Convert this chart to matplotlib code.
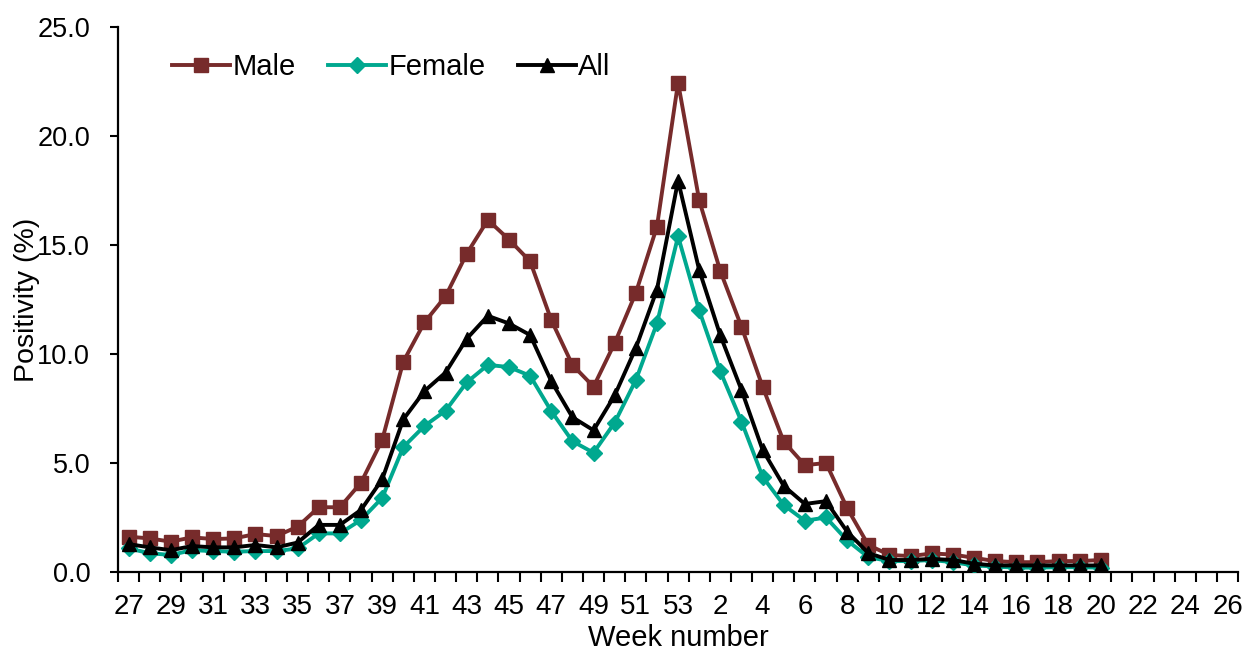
import matplotlib
matplotlib.use("Agg")
import matplotlib.pyplot as plt
from matplotlib.ticker import FixedLocator, FuncFormatter

plt.rcParams['font.family'] = ['Liberation Sans', 'DejaVu Sans']

weeks = list(range(27, 54)) + list(range(1, 27))
tick_labels = [str(w) for w in weeks]

male = [1.62, 1.54, 1.39, 1.59, 1.51, 1.54, 1.74, 1.65, 2.08, 2.97, 2.97, 4.1, 6.06, 9.65,
        11.45, 12.65, 14.6, 16.15, 15.25, 14.25, 11.56, 9.5, 8.5, 10.5, 12.8, 15.84, 22.45,
        17.05, 13.8, 11.25, 8.5, 5.98, 4.9, 5.0, 2.93, 1.24, 0.78, 0.73, 0.85, 0.8,
        0.65, 0.5, 0.45, 0.45, 0.5, 0.5, 0.55]
female = [1.08, 0.86, 0.78, 1.0, 0.96, 0.93, 0.96, 0.96, 1.08, 1.77, 1.77, 2.39, 3.4, 5.73,
          6.7, 7.4, 8.7, 9.5, 9.4, 9.0, 7.38, 6.0, 5.47, 6.85, 8.8, 11.4, 15.4,
          12.0, 9.2, 6.9, 4.37, 3.07, 2.35, 2.5, 1.45, 0.68, 0.5, 0.5, 0.55, 0.45,
          0.3, 0.25, 0.2, 0.2, 0.22, 0.22, 0.2]
all_ = [1.28, 1.13, 1.0, 1.19, 1.13, 1.13, 1.24, 1.13, 1.35, 2.16, 2.16, 2.85, 4.25, 7.0,
        8.3, 9.15, 10.7, 11.75, 11.4, 10.87, 8.75, 7.1, 6.5, 8.1, 10.27, 12.95, 17.95,
        13.85, 10.85, 8.35, 5.6, 3.95, 3.12, 3.25, 1.85, 0.87, 0.55, 0.55, 0.6, 0.55,
        0.38, 0.3, 0.3, 0.3, 0.3, 0.3, 0.3]

fig = plt.figure(figsize=(12.46, 6.54), dpi=100)
ax = fig.add_axes([0.0947, 0.1254, 0.899, 0.8333])

x_m = list(range(len(male)))
ax.plot(x_m, male, color='#772B2B', lw=2.8, marker='s', ms=10.5, label='Male', zorder=3)
ax.plot(x_m, female, color='#00A88F', lw=2.8, marker='D', ms=8, label='Female', zorder=4)
ax.plot(x_m, all_, color='black', lw=2.8, marker='^', ms=10.5, label='All', zorder=5)

ax.set_xlim(-0.5, len(weeks) - 0.5)
ax.set_ylim(0, 25)
ax.set_yticks([0, 5, 10, 15, 20, 25])
ax.yaxis.set_major_formatter(FuncFormatter(lambda v, p: f"{v:.1f}"))

ax.xaxis.set_major_locator(FixedLocator(list(range(0, len(weeks), 2))))
ax.set_xticklabels(tick_labels[::2])
ax.xaxis.set_minor_locator(FixedLocator([i - 0.5 for i in range(len(weeks) + 1)]))
ax.tick_params(axis='x', which='major', length=0, pad=16, labelsize=20)
ax.tick_params(axis='x', which='minor', length=7, width=1.5)
ax.tick_params(axis='y', which='major', length=6, width=1.5, labelsize=19.5, pad=14)

for s in ['top', 'right']:
    ax.spines[s].set_visible(False)
for s in ['left', 'bottom']:
    ax.spines[s].set_linewidth(1.6)

ax.set_xlabel('Week number', fontsize=21, labelpad=3)
ax.set_ylabel('Positivity (%)', fontsize=20.5, labelpad=-2)

ax.legend(loc='center left', bbox_to_anchor=(0.048, 0.927), ncol=3, frameon=False,
          fontsize=21, handlelength=2.0, columnspacing=1.1, handletextpad=0.08,
          borderaxespad=0, borderpad=0)

fig.savefig('out.png', dpi=100)
